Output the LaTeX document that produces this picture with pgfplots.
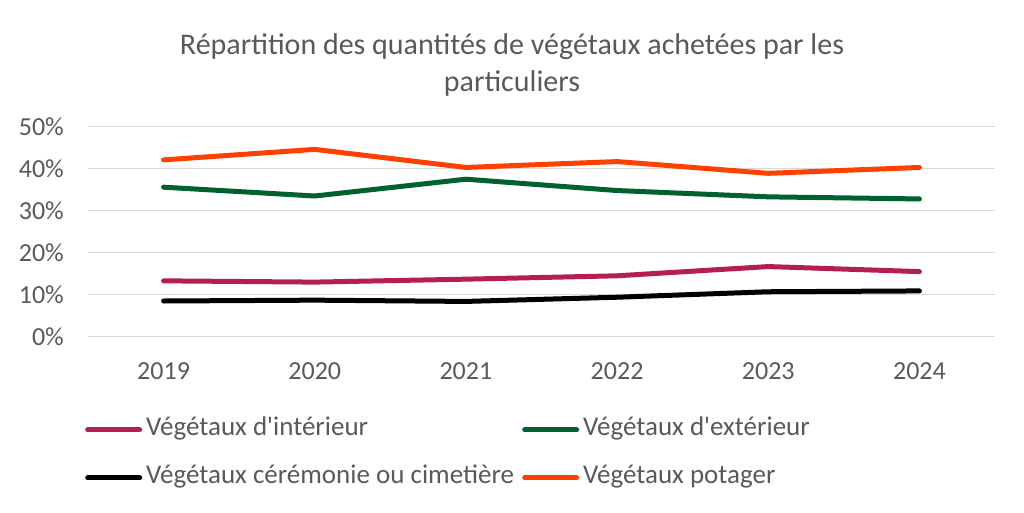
\documentclass[border=0pt]{standalone}
\usepackage{fontspec}
\setmainfont{Carlito}
\usepackage{pgfplots}
\pgfplotsset{compat=1.18}

\definecolor{txt}{HTML}{595959}
\definecolor{gridc}{HTML}{D9D9D9}
\definecolor{interieur}{HTML}{B51F50}
\definecolor{exterieur}{HTML}{00612E}
\definecolor{potager}{HTML}{FF4000}

\begin{document}
\begin{tikzpicture}
  \path[use as bounding box] (-88pt,-175.3pt) rectangle (936pt,336.7pt);
  \begin{axis}[
      scale only axis,
      width=907pt, height=210pt,
      xmin=-0.5, xmax=5.5,
      ymin=0, ymax=50,
      xtick={0,1,2,3,4,5},
      xticklabels={2019,2020,2021,2022,2023,2024},
      ytick={0,10,20,30,40,50},
      yticklabels={0\%,10\%,20\%,30\%,40\%,50\%},
      ymajorgrids,
      grid style={color=gridc, line width=1.5pt},
      axis line style={draw=none},
      tick style={draw=none},
      ticklabel style={font=\fontsize{26}{30}\selectfont, text=txt, inner sep=0pt},
      yticklabel style={anchor=east, xshift=-24pt},
      xticklabel style={anchor=north, yshift=-26pt},
      every axis plot/.append style={line width=5pt, line cap=round, line join=round},
      legend columns=2,
      legend cell align=left,
      legend style={
        at={(-3pt,-81pt)}, anchor=north west,
        draw=none, fill=none, inner sep=0pt,
        font=\fontsize{27}{32}\selectfont, text=txt,
        column sep=4pt, row sep=24pt,
        nodes={inner sep=0pt, text height=18pt, text depth=6pt},
      },
      legend image code/.code={\draw[#1] (0pt,0pt) -- (52pt,0pt);},
    ]
    \addplot[color=interieur] coordinates {
      (0,13.3) (1,13.0) (2,13.7) (3,14.5) (4,16.7) (5,15.5)
    };
    \addlegendentry{\makebox[372pt][l]{Végétaux d\textquotesingle intérieur}}
    \addplot[color=exterieur] coordinates {
      (0,35.6) (1,33.5) (2,37.5) (3,34.8) (4,33.3) (5,32.8)
    };
    \addlegendentry{Végétaux d\textquotesingle extérieur}
    \addplot[color=black] coordinates {
      (0,8.5) (1,8.7) (2,8.4) (3,9.4) (4,10.7) (5,10.9)
    };
    \addlegendentry{\makebox[372pt][l]{Végétaux cérémonie ou cimetière}}
    \addplot[color=potager] coordinates {
      (0,42.1) (1,44.6) (2,40.3) (3,41.7) (4,38.9) (5,40.3)
    };
    \addlegendentry{Végétaux potager}
  \end{axis}
  \node[align=center, font=\fontsize{30}{37}\selectfont, text=txt, inner sep=0pt]
    at (424pt,272pt) {Répartition des quantités de végétaux achetées par les\\particuliers};
\end{tikzpicture}
\end{document}
